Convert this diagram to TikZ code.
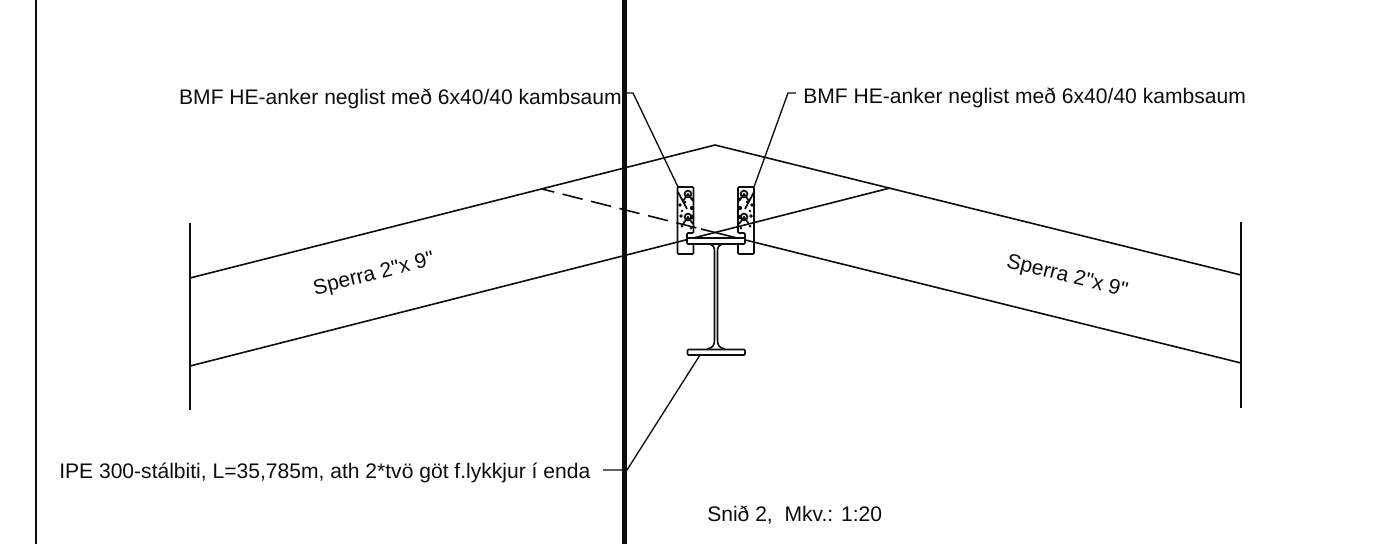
\documentclass[tikz,border=0pt]{standalone}
\usepackage{fontspec}
\newfontfamily\plainf{Liberation Sans}
\definecolor{ink}{gray}{0.05}
\tikzset{
  px/.style={x=0.75pt,y=-0.75pt},
  thin line/.style={draw=ink,line width=1.2pt},
  fine line/.style={draw=ink,line width=0.85pt},
  lead line/.style={draw=ink,line width=1pt},
  lab/.style={inner sep=0pt,text=ink,font=\plainf\fontsize{15.8pt}{17pt}\selectfont},
  nail/.style={draw=ink,line width=1.3pt}
}
\newcommand{\nailpatch}[2]{%
  \begin{scope}[shift={(#1)},xscale=#2]
    \draw[nail] (10,7) circle[radius=3.4];
    \draw[nail] (10,30) circle[radius=3.4];
    \draw[nail] (5,14) -- (10,7) -- (15,14);
    \draw[nail] (5,37) -- (10,30) -- (15,37);
    \draw[nail] (0,5) -- (9,22);
    \fill[ink] (14,21) circle[radius=2.1] (14,30) circle[radius=2.1] (14,12) circle[radius=1.7]
      (2,18) circle[radius=1.8] (3,29) circle[radius=1.8] (7,15) circle[radius=1.5]
      (4,39) circle[radius=1.5] (13,41) circle[radius=1.5] (4,24) circle[radius=1.3];
  \end{scope}}
\begin{document}
\begin{tikzpicture}[px]
\useasboundingbox (0,0) rectangle (1400,544);
% frame lines
\draw[draw=ink,line width=1.1pt] (36,0) -- (36,544);
\draw[draw=ink,line width=4pt] (624.5,0) -- (624.5,544);
% rafter end cuts
\draw[fine line] (190,223) -- (190,410);
\draw[fine line] (1241,222) -- (1241,408);
% rafters
\draw[thin line] (190,278) -- (715,145) -- (1241,275);
% brackets
\draw[thin line,rounded corners=0.8pt] (687,238) -- (687,233) -- (693.5,233) -- (693.5,187) -- (677.5,187) -- (677.5,254) -- (693.5,254) -- (693.5,244);
\draw[thin line,rounded corners=0.8pt] (745,238) -- (745,233) -- (738,233) -- (738,187) -- (754,187) -- (754,254) -- (738,254) -- (738,244);
\nailpatch{678,187}{1}
\nailpatch{754,187}{-1}
% rafters passing the brackets
\draw[thin line] (190,366) -- (890,188);
\draw[thin line] (1241,363) -- (701,229);
\draw[thin line,dash pattern=on 15.5pt off 6.5pt,dash phase=6.1pt] (542,189) -- (701,229);
% steel beam
\fill[white] (687,238) rectangle (745,244);
\draw[thin line,rounded corners=0.8pt] (687,238) rectangle (745,244);
\draw[thin line] (710,244) .. controls (713,245) and (714.5,247) .. (714.5,251) -- (714.5,340) .. controls (714.5,345) and (713,348) .. (707,349);
\draw[thin line] (722,244) .. controls (719,245) and (717.5,247) .. (717.5,251) -- (717.5,340) .. controls (717.5,345) and (719,348) .. (725,349);
\draw[thin line,rounded corners=0.8pt] (687.5,349.5) rectangle (745,355);
% labels
\node[lab,anchor=base east] (bmfl) at (622,104) {BMF HE-anker neglist með 6x40/40 kambsaum};
\node[lab,anchor=base west] (bmfr) at (803,103) {BMF HE-anker neglist með 6x40/40 kambsaum};
\node[lab,anchor=base west] (ipe) at (59,478) {IPE 300-stálbiti, L=35,785m, ath 2*tvö göt f.lykkjur í enda};
\node[lab,anchor=base west] (snid) at (707,521) {Snið 2,\ \ Mkv.: 1:20};
\node[lab,rotate=14] (sl) at (374,275) {Sperra 2"x 9"};
\node[lab,rotate=-14] (sr) at (1067,277) {Sperra 2"x 9"};
% leaders
\coordinate (lla) at (678,187);
\coordinate (lra) at (754,187);
\coordinate (lib) at (700,355);
\coordinate (bend1) at (633,93);
\coordinate (bend2) at (788,93);
\coordinate (bend3) at (627,470);
\draw[lead line] (bmfl.east |- bend1) -- (bend1) -- (lla);
\draw[lead line] (796,93) -- (bend2) -- (lra);
\draw[lead line] (603,470) -- (bend3) -- (lib);
\end{tikzpicture}
\end{document}
